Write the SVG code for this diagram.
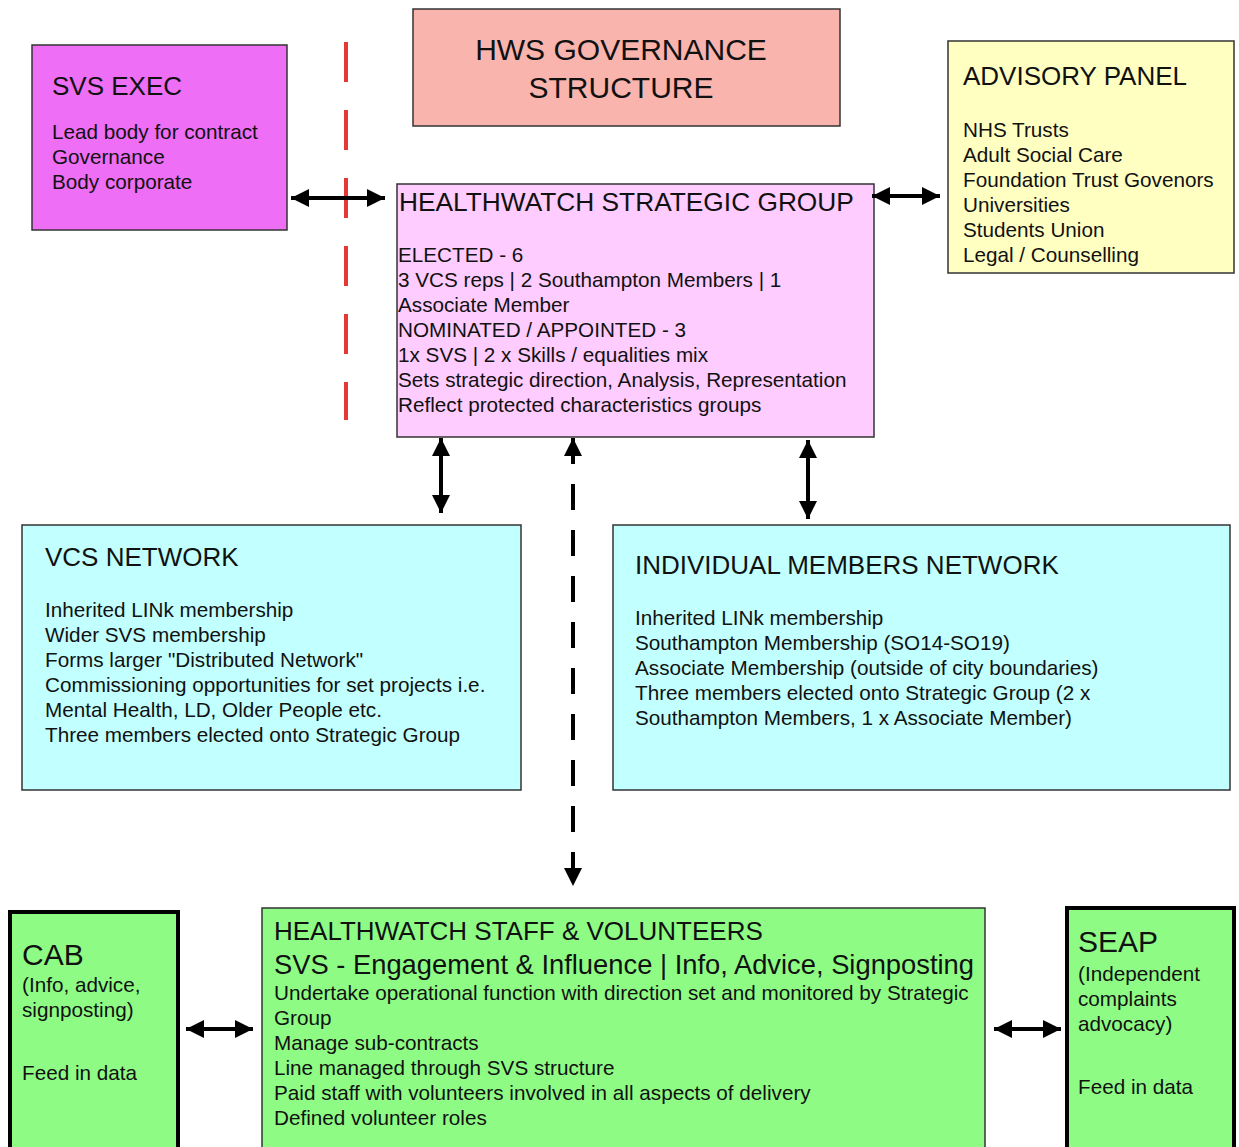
<svg xmlns="http://www.w3.org/2000/svg" width="1239" height="1147" viewBox="0 0 1239 1147">
<defs>
<style>
text{font-family:"Liberation Sans",Arial,sans-serif;fill:#111}
.box{stroke:#333;stroke-width:1.5}
.thick{stroke:#000;stroke-width:4}
.t26{font-size:26px}
.t30{font-size:30px}
.b{font-size:20.7px}
.conn{stroke:#000;stroke-width:4;fill:none}
</style>
<marker id="ah" viewBox="0 0 10 10" refX="10" refY="5" markerWidth="20" markerHeight="18" markerUnits="userSpaceOnUse" orient="auto-start-reverse">
<path d="M0,0 L10,5 L0,10 z" fill="#000"/>
</marker>
</defs>
<rect width="1239" height="1147" fill="#fff"/>

<g id="redline">
<line x1="346" y1="42" x2="346" y2="420" stroke="#E53935" stroke-width="4" stroke-dasharray="40 28"/>
</g>

<g id="svs-exec">
<rect class="box" x="32" y="45" width="255" height="185" fill="#EE6EF6"/>
<text class="t26" x="52" y="95">SVS EXEC</text>
<text class="b" x="52" y="139">Lead body for contract</text>
<text class="b" x="52" y="164">Governance</text>
<text class="b" x="52" y="189">Body corporate</text>
</g>

<g id="title">
<rect class="box" x="413" y="9" width="427" height="117" fill="#F9B4AE"/>
<text class="t30" x="621" y="60" text-anchor="middle">HWS GOVERNANCE</text>
<text class="t30" x="621" y="98" text-anchor="middle">STRUCTURE</text>
</g>

<g id="strategic">
<rect class="box" x="397" y="184" width="477" height="253" fill="#FFCCFF"/>
<text class="t26" x="399" y="211" style="font-size:26.3px">HEALTHWATCH STRATEGIC GROUP</text>
<text class="b" x="398" y="262">ELECTED - 6</text>
<text class="b" x="398" y="287">3 VCS reps | 2 Southampton Members | 1</text>
<text class="b" x="398" y="312">Associate Member</text>
<text class="b" x="398" y="337">NOMINATED / APPOINTED - 3</text>
<text class="b" x="398" y="362">1x SVS | 2 x Skills / equalities mix</text>
<text class="b" x="398" y="387">Sets strategic direction, Analysis, Representation</text>
<text class="b" x="398" y="412">Reflect protected characteristics groups</text>
</g>

<g id="advisory">
<rect class="box" x="948" y="41" width="286" height="232" fill="#FFFFC2"/>
<text class="t26" x="963" y="85">ADVISORY PANEL</text>
<text class="b" x="963" y="137">NHS Trusts</text>
<text class="b" x="963" y="162">Adult Social Care</text>
<text class="b" x="963" y="187">Foundation Trust Govenors</text>
<text class="b" x="963" y="212">Universities</text>
<text class="b" x="963" y="237">Students Union</text>
<text class="b" x="963" y="262">Legal / Counselling</text>
</g>

<g id="vcs">
<rect class="box" x="22" y="525" width="499" height="265" fill="#C2FFFF"/>
<text class="t26" x="45" y="566">VCS NETWORK</text>
<text class="b" x="45" y="617">Inherited LINk membership</text>
<text class="b" x="45" y="642">Wider SVS membership</text>
<text class="b" x="45" y="667">Forms larger "Distributed Network"</text>
<text class="b" x="45" y="692">Commissioning opportunities for set projects i.e.</text>
<text class="b" x="45" y="717">Mental Health, LD, Older People etc.</text>
<text class="b" x="45" y="742">Three members elected onto Strategic Group</text>
</g>

<g id="individual">
<rect class="box" x="613" y="525" width="617" height="265" fill="#C2FFFF"/>
<text class="t26" x="635" y="574">INDIVIDUAL MEMBERS NETWORK</text>
<text class="b" x="635" y="625">Inherited LINk membership</text>
<text class="b" x="635" y="650">Southampton Membership (SO14-SO19)</text>
<text class="b" x="635" y="675">Associate Membership (outside of city boundaries)</text>
<text class="b" x="635" y="700">Three members elected onto Strategic Group (2 x</text>
<text class="b" x="635" y="725">Southampton Members, 1 x Associate Member)</text>
</g>

<g id="cab">
<rect class="thick" x="10" y="912" width="168" height="250" fill="#8EFC84"/>
<text class="t30" x="22" y="965">CAB</text>
<text class="b" x="22" y="992">(Info, advice,</text>
<text class="b" x="22" y="1017">signposting)</text>
<text class="b" x="22" y="1080">Feed in data</text>
</g>

<g id="staff">
<rect class="box" x="262" y="908" width="723" height="260" fill="#8EFC84"/>
<text class="t26" x="274" y="940">HEALTHWATCH STAFF &amp; VOLUNTEERS</text>
<text x="274" y="974" style="font-size:28px" textLength="700" lengthAdjust="spacingAndGlyphs">SVS - Engagement &amp; Influence | Info, Advice, Signposting</text>
<text class="b" x="274" y="1000">Undertake operational function with direction set and monitored by Strategic</text>
<text class="b" x="274" y="1025">Group</text>
<text class="b" x="274" y="1050">Manage sub-contracts</text>
<text class="b" x="274" y="1075">Line managed through SVS structure</text>
<text class="b" x="274" y="1100">Paid staff with volunteers involved in all aspects of delivery</text>
<text class="b" x="274" y="1125">Defined volunteer roles</text>
</g>

<g id="seap">
<rect class="thick" x="1067" y="908" width="167" height="260" fill="#8EFC84"/>
<text class="t30" x="1078" y="952">SEAP</text>
<text class="b" x="1078" y="981">(Independent</text>
<text class="b" x="1078" y="1006">complaints</text>
<text class="b" x="1078" y="1031">advocacy)</text>
<text class="b" x="1078" y="1094">Feed in data</text>
</g>

<g id="connectors">
<line class="conn" x1="291" y1="198" x2="385" y2="198" marker-start="url(#ah)" marker-end="url(#ah)"/>
<line class="conn" x1="872" y1="196" x2="940" y2="196" marker-start="url(#ah)" marker-end="url(#ah)"/>
<line class="conn" x1="441" y1="438" x2="441" y2="513" marker-start="url(#ah)" marker-end="url(#ah)"/>
<line class="conn" x1="808" y1="440" x2="808" y2="519" marker-start="url(#ah)" marker-end="url(#ah)"/>
<line class="conn" x1="573" y1="438" x2="573" y2="886" stroke-dasharray="26 20" marker-start="url(#ah)" marker-end="url(#ah)"/>
<line class="conn" x1="186" y1="1029" x2="253" y2="1029" marker-start="url(#ah)" marker-end="url(#ah)"/>
<line class="conn" x1="994" y1="1029" x2="1061" y2="1029" marker-start="url(#ah)" marker-end="url(#ah)"/>
</g>
</svg>
